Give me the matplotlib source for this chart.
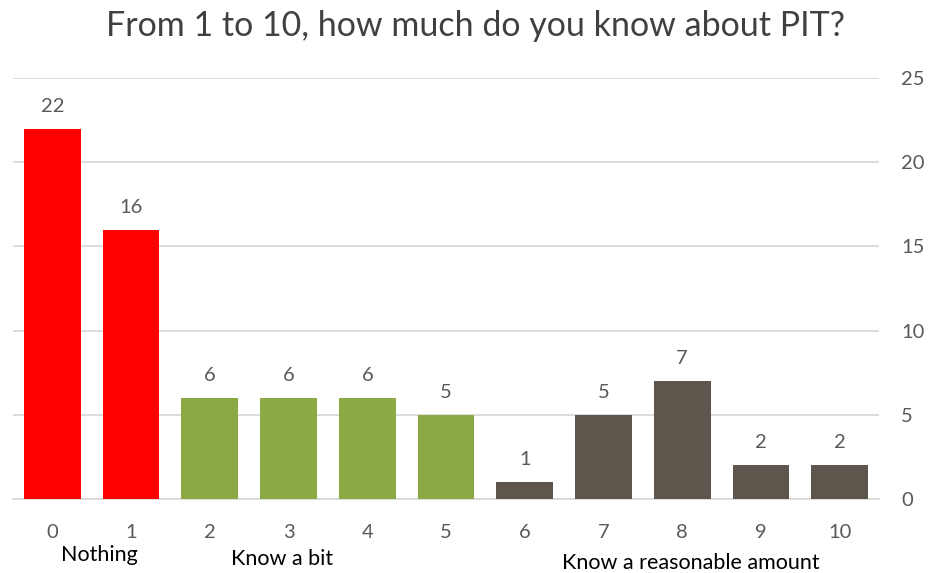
import matplotlib
matplotlib.use("Agg")
import matplotlib.pyplot as plt
import matplotlib.transforms as mtransforms

categories = ["0", "1", "2", "3", "4", "5", "6", "7", "8", "9", "10"]
values = [22, 16, 6, 6, 6, 5, 1, 5, 7, 2, 2]
bar_colors = ["#FF0000", "#FF0000",
              "#8BAA44", "#8BAA44", "#8BAA44", "#8BAA44",
              "#5E564C", "#5E564C", "#5E564C", "#5E564C", "#5E564C"]
group_labels = ["Nothing", "Know a bit", "Know a reasonable amount"]
group_x = [0.6, 2.92, 8.11]
yticks = [0, 5, 10, 15, 20, 25]
title = "From 1 to 10, how much do you know about PIT?"

plt.rcParams['font.family'] = ['Lato', 'DejaVu Sans']
text_col = "#595959"

fig = plt.figure(figsize=(9.29, 5.73), dpi=100)
ax = fig.add_axes([13/929, 1-499/573, 866/929, 421/573])

x = list(range(len(categories)))
bars = ax.bar(x, values, width=0.72, color=bar_colors, zorder=3)
for xi, v in zip(x, values):
    ax.annotate(str(v), (xi, v), xytext=(0, 10), textcoords="offset points",
                ha="center", va="bottom", fontsize=14.5, color=text_col)

ax.set_xlim(-0.5, 10.5)
ax.set_ylim(0, 25)
ax.set_yticks(yticks)
ax.yaxis.tick_right()
ax.tick_params(axis='y', length=0, pad=16, labelsize=14.5, labelcolor=text_col)
ax.set_xticks(x)
ax.set_xticklabels(categories)
ax.tick_params(axis='x', length=0, pad=18, labelsize=14.5, labelcolor=text_col)
ax.grid(axis='y', color="#D9D9D9", linewidth=1.3, zorder=0)
for s in ["top", "left", "right"]:
    ax.spines[s].set_visible(False)
ax.spines["bottom"].set_color("#D9D9D9")
ax.spines["bottom"].set_linewidth(1.3)

blend = mtransforms.blended_transform_factory(ax.transData, fig.transFigure)
for gx, gl, gy in zip(group_x, group_labels, [555, 559, 563]):
    ax.text(gx, 1 - gy/573, gl, transform=blend,
            ha="center", va="center", fontsize=15.5, color="#000000")

fig.text(476/929, 1 - 26/573, title, ha="center", va="center", fontsize=24.5, color="#404040")

fig.savefig("out.png", dpi=100)
